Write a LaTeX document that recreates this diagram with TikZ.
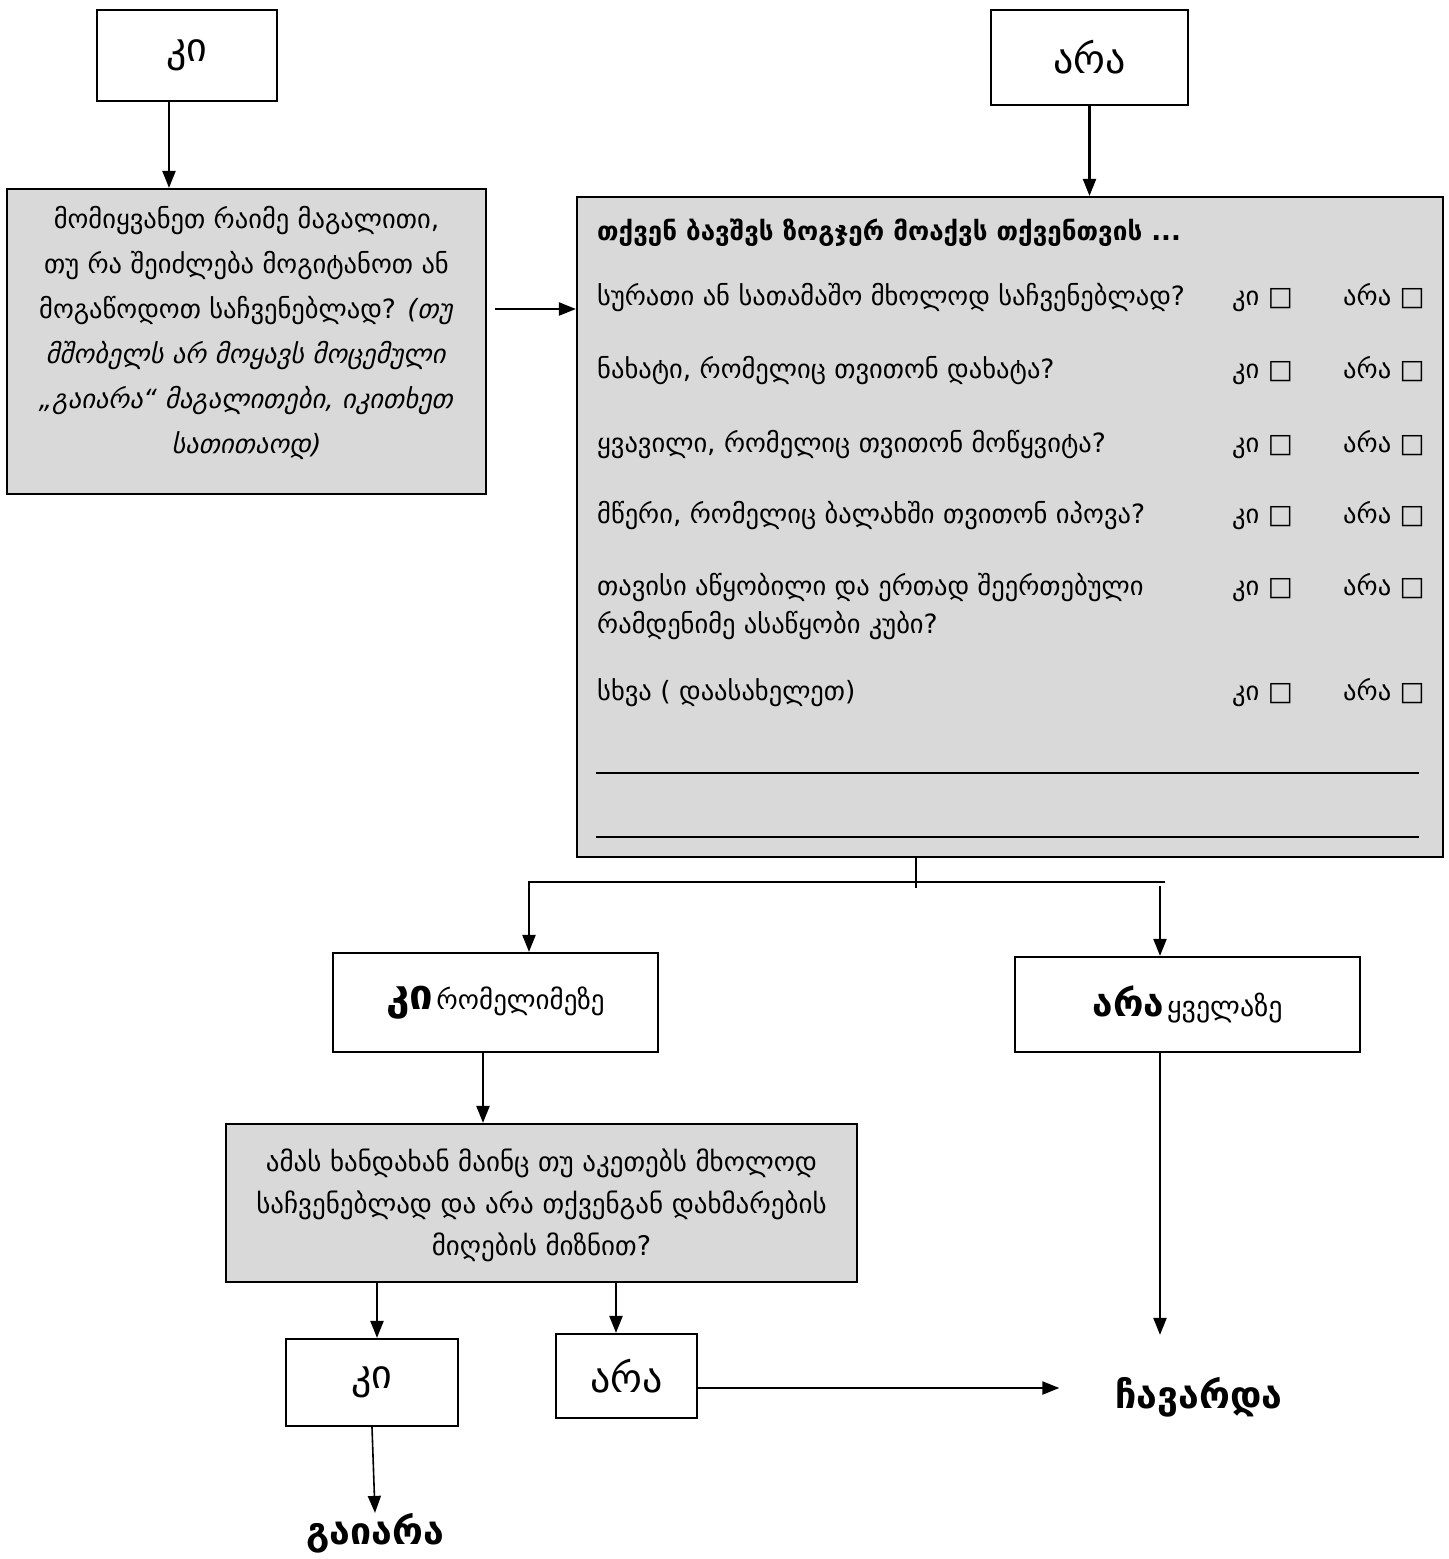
\documentclass[tikz,border=0pt]{standalone}
\usepackage{fontspec}
\setmainfont{DejaVu Sans}
\usetikzlibrary{arrows.meta,calc}
\begin{document}
\begin{tikzpicture}[x=1pt,y=-1pt,
  box/.style={draw,line width=2.2pt,inner sep=0pt,align=center},
  gbox/.style={box,fill=black!15},
  arr/.style={line width=2.2pt,-{Triangle[length=17pt,width=13pt]}},
  ln/.style={line width=2.2pt},
  bodyf/.style={font=\fontsize{26.5}{45}\selectfont},
  rowf/.style={font=\fontsize{26.5}{38}\selectfont,anchor=base west,inner sep=0pt},
  bigf/.style={font=\fontsize{40}{44}\selectfont},
  endf/.style={font=\bfseries\fontsize{37.5}{44}\selectfont,inner sep=0pt}
]
\useasboundingbox (0,0) rectangle (1449,1559);

% top boxes
\node[box,minimum width=180pt,minimum height=91pt,bigf] (ki) at (187,55.5) {კი};
\node[box,minimum width=197pt,minimum height=95pt,bigf] (ara) at (1089.5,57.5) {არა};

% left grey box
\node[gbox,minimum width=479pt,minimum height=305pt] (q1) at (246.5,341.5) {};
\node[bodyf,align=center,inner sep=0pt] (q1t) at (246.5,333) {მომიყვანეთ რაიმე მაგალითი,\\
თუ რა შეიძლება მოგიტანოთ ან\\
მოგაწოდოთ საჩვენებლად? \textit{(თუ}\\
\textit{მშობელს არ მოყავს მოცემული}\\
\textit{„გაიარა“ მაგალითები, იკითხეთ}\\
\textit{სათითაოდ)}};

% right big box
\node[gbox,minimum width=866pt,minimum height=660pt] (q2) at (1010,527) {};
\node[rowf,font=\bfseries\fontsize{26}{38}\selectfont] (t0) at (597,240) {თქვენ ბავშვს ზოგჯერ მოაქვს თქვენთვის ...};
\node[rowf] (r1) at (597,305) {სურათი ან სათამაშო მხოლოდ საჩვენებლად?};
\node[rowf] (r2) at (597,378) {ნახატი, რომელიც თვითონ დახატა?};
\node[rowf] (r3) at (597,452) {ყვავილი, რომელიც თვითონ მოწყვიტა?};
\node[rowf] (r4) at (597,523) {მწერი, რომელიც ბალახში თვითონ იპოვა?};
\node[rowf] (r5) at (597,595) {თავისი აწყობილი და ერთად შეერთებული};
\node[rowf] (r5b) at (597,633) {რამდენიმე ასაწყობი კუბი?};
\node[rowf] (r6) at (597,700) {სხვა ( დაასახელეთ)};
\foreach \y/\n in {305/1,378/2,452/3,523/4,595/5,700/6}{
  \node[rowf] (k\n) at (1232,\y) {კი □};
  \node[rowf] (a\n) at (1343,\y) {არა □};
}
\draw[line width=1.4pt] ($(q2.south west)+(20,-85)$) -- ($(q2.south east)+(-25,-85)$);
\draw[line width=1.4pt] ($(q2.south west)+(20,-21)$) -- ($(q2.south east)+(-25,-21)$);

% middle boxes
\node[box,minimum width=325pt,minimum height=99pt] (kr) at (495.5,1002.5)
  {{\bfseries\fontsize{42}{44}\selectfont კი} {\fontsize{27}{36}\selectfont რომელიმეზე}};
\node[box,minimum width=345pt,minimum height=95pt] (ay) at (1187.5,1004.5)
  {{\bfseries\fontsize{37}{44}\selectfont არა} {\fontsize{28}{36}\selectfont ყველაზე}};

\node[gbox,minimum width=631pt,minimum height=158pt] (q3) at (541.5,1203) {};
\node[font=\fontsize{27}{42}\selectfont,align=center,inner sep=0pt] (q3t) at (541.5,1205)
  {ამას ხანდახან მაინც თუ აკეთებს მხოლოდ\\
   საჩვენებლად და არა თქვენგან დახმარების\\
   მიღების მიზნით?};

% bottom
\node[box,minimum width=172pt,minimum height=87pt,bigf] (k2) at (372,1382.5) {კი};
\node[box,minimum width=141pt,minimum height=84pt,bigf] (a2) at (626.5,1376) {არა};
\node[endf] (fail) at (1199,1397) {ჩავარდა};
\node[endf] (pass) at (375,1533) {გაიარა};

% connectors
\coordinate (c1) at ($(ki.south)+(-18,0)$);
\draw[arr] (c1) -- (c1 |- q1.north);
\draw[arr] (ara.south) -- (ara.south |- q2.north);
\coordinate (c2) at ($(q1.east)+(8,-32.5)$);
\draw[arr] (c2) -- (c2 -| q2.west);

\coordinate (s) at ($(q2.south)+(-94,0)$);
\coordinate (sj) at ($(s)+(0,24)$);
\coordinate (kt) at ($(kr.north)+(33.5,0)$);
\coordinate (ayt) at ($(ay.north)+(-27.5,0)$);
\coordinate (hr) at ($(sj -| ayt)+(5,0)$);
\draw[line width=1.4pt] (s) -- ($(s)+(0,30)$);
\draw[ln] (sj) -- (hr);
\draw[arr] (sj) -| (kt);
\draw[arr] ($(sj -| ayt)+(0,4)$) -- (ayt);

\coordinate (kb) at ($(kr.south)+(-12.5,0)$);
\draw[arr] (kb) -- (kb |- q3.north);

\coordinate (ayb) at ($(ay.south)+(-27.5,0)$);
\coordinate (fe) at ($(fail.north)+(0,-42)$);
\draw[arr] (ayb) -- (ayb |- fe);

\coordinate (k2t) at ($(k2.north)+(5,0)$);
\draw[arr] (k2t |- q3.south) -- (k2t);
\coordinate (a2t) at ($(a2.north)+(-10.5,0)$);
\draw[arr] (a2t |- q3.south) -- (a2t);

\coordinate (a2e) at ($(a2.east)+(0,12)$);
\draw[arr,shorten >=56pt] (a2e) -- (a2e -| fail.west);
\draw[arr,line width=1.6pt] (k2.south) -- (pass.north);
\end{tikzpicture}
\end{document}
